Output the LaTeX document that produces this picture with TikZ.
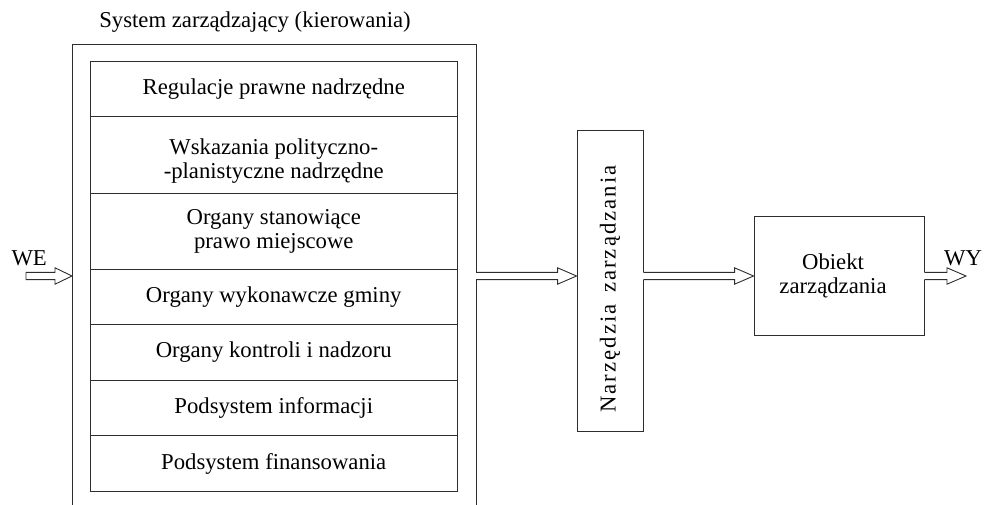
\documentclass[tikz,border=0pt]{standalone}
\usepackage{fontspec}
\setmainfont{Liberation Serif}
\usepackage{tikz}
\usetikzlibrary{positioning, calc}
\definecolor{linegray}{RGB}{45,45,45}

\tikzset{
  wire/.style={draw=linegray, line width=0.9pt},
  rowbox/.style={rectangle, draw=linegray, line width=0.9pt, inner sep=0pt,
                 minimum width=366.5pt, align=center},
  blockbox/.style={rectangle, draw=linegray, line width=0.9pt, inner sep=0pt, align=center},
}
% strzalka "pusta": ogon otwarty do bloku, grot przy wezle docelowym
\newcommand{\hollowarrow}[2]{%
  \fill[white] ($(#1)+(-1.2,-3.6)$) rectangle ($(#1)+(1.2,3.6)$);
  \draw[wire] ($(#1)+(0,-3.6)$) -- ($(#2)+(-19,-3.6)$) -- ($(#2)+(-19,-8.2)$)
    -- (#2) -- ($(#2)+(-19,8.2)$) -- ($(#2)+(-19,3.6)$) -- ($(#1)+(0,3.6)$);}

\begin{document}
\begin{tikzpicture}[x=1pt, y=-1pt, font=\fontsize{22.7}{24}\selectfont]
    \useasboundingbox (0,0) rectangle (984,505);
    % --- System zarzadzajacy ---
    \node (systitle) at (255,22) {System zarządzający (kierowania)};
    \draw[wire] (72,505) -- (72,44) -- (476,44) -- (476,505);
    \coordinate (sysl) at (72,276);
    \coordinate (sysr) at (476,276);
    % --- Podsystemy ---
    \foreach \n/\y/\h/\t in {r1/88.75/55.5/{Regulacje prawne nadrzędne},
                             r2/154.75/76.5/{\rule{0pt}{29pt}Wskazania polityczno-\\-planistyczne nadrzędne},
                             r3/231.15/76.3/{Organy stanowiące\\prawo miejscowe},
                             r4/296.8/55/{Organy wykonawcze gminy},
                             r5/352.3/56/{Organy kontroli i nadzoru},
                             r6/408/55.4/{Podsystem informacji},
                             r7/463.7/56/{Podsystem finansowania}} {
      \node[rowbox, minimum height=\h pt] (\n) at (273.75,\y) {\t};
    }
    % --- Narzedzia ---
    \node[blockbox, rotate=90, minimum width=301pt, minimum height=66pt] (narz) at (610,281)
      {\addfontfeature{LetterSpace=9}Narzędzia\, zarządzania\hspace*{16pt}};
    % --- Obiekt ---
    \node[blockbox, minimum width=170pt, minimum height=119pt] (obj) at (839,275.5)
      {Obiekt\hspace*{12pt}\\zarządzania\hspace*{12pt}};
    % --- Wejscie / wyjscie ---
    \coordinate (we) at (26,276);
    \coordinate (wy) at (966,276);
    \node (welabel) at (26,258) [anchor=west, xshift=-18pt] {WE};
    \node (wylabel) at (963,258) {WY};
    % Polaczenia
    \draw[wire] ($(we)+(0,-3.6)$) -- ($(sysl)+(-17,-3.6)$) -- ($(sysl)+(-17,-8.2)$)
      -- (sysl) -- ($(sysl)+(-17,8.2)$) -- ($(sysl)+(-17,3.6)$) -- ($(we)+(0,3.6)$) -- cycle;
    \hollowarrow{sysr}{narz.north |- sysr}
    \hollowarrow{narz.south |- sysr}{obj.west |- sysr}
    \hollowarrow{obj.east |- sysr}{wy}
\end{tikzpicture}
\end{document}
